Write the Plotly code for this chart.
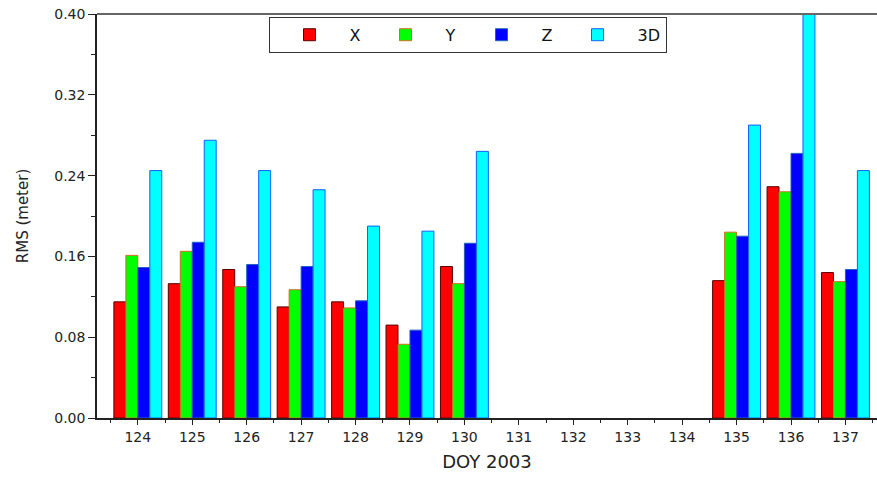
import plotly.graph_objects as go

days = [124, 125, 126, 127, 128, 129, 130, 131, 132, 133, 134, 135, 136, 137]
rms_x = [0.115, 0.133, 0.147, 0.110, 0.115, 0.092, 0.150, None, None, None, None, 0.136, 0.229, 0.144]
rms_y = [0.161, 0.165, 0.130, 0.127, 0.109, 0.073, 0.133, None, None, None, None, 0.184, 0.224, 0.135]
rms_z = [0.149, 0.174, 0.152, 0.150, 0.116, 0.087, 0.173, None, None, None, None, 0.180, 0.262, 0.147]
rms_3d = [0.245, 0.275, 0.245, 0.226, 0.190, 0.185, 0.264, None, None, None, None, 0.290, 0.410, 0.245]

series = [
    ("X", rms_x, "#ff0000", "#5a0000"),
    ("Y", rms_y, "#00ff00", "#d07020"),
    ("Z", rms_z, "#0000ff", "#2060c0"),
    ("3D", rms_3d, "#00ffff", "#1060ff"),
]

fig = go.Figure()
for name, vals, fill, line in series:
    fig.add_trace(go.Bar(
        x=days, y=vals, name=name,
        marker=dict(color=fill, line=dict(color=line, width=1)),
    ))

fig.update_layout(
    width=877, height=477,
    margin=dict(l=97, r=0, t=14, b=59, autoexpand=False),
    paper_bgcolor="white", plot_bgcolor="white",
    barmode="group", bargap=0.12, bargroupgap=0,
    font=dict(family="DejaVu Sans, sans-serif", color="#222222"),
    showlegend=True,
    legend=dict(
        orientation="h", x=0.475, xanchor="center", y=0.993, yanchor="top",
        bordercolor="#333333", borderwidth=1, bgcolor="white",
        font=dict(size=16, color="#111111"), itemwidth=70,
        traceorder="normal", itemclick=False,
    ),
    xaxis=dict(
        range=[123.25, 137.58], tickmode="array", tickvals=days,
        ticktext=[str(d) for d in days], automargin=False,
        showline=True, linecolor="#222222", linewidth=1.5,
        ticks="outside", ticklen=5, tickcolor="#222222",
        showgrid=False, zeroline=False,
        minor=dict(tickmode="array", tickvals=[d + 0.5 for d in [123] + days],
                   ticks="outside", ticklen=3, tickcolor="#222222"),
        tickfont=dict(size=14),
        title=dict(text="DOY 2003", font=dict(size=18), standoff=12),
    ),
    yaxis=dict(
        range=[0, 0.40], tickmode="linear", tick0=0, dtick=0.08,
        tickformat=".2f", automargin=False,
        showline=True, linecolor="#222222", linewidth=1.5,
        ticks="outside", ticklen=7, tickcolor="#222222",
        showgrid=False, zeroline=False,
        minor=dict(dtick=0.04, ticks="outside", ticklen=4, tickcolor="#222222"),
        tickfont=dict(size=14),
        title=dict(text="RMS (meter)", font=dict(size=15), standoff=22),
    ),
    shapes=[dict(type="line", xref="paper", yref="paper", x0=0, x1=1, y0=1, y1=1,
                 line=dict(color="#666666", width=2))],
)

fig.write_html(
    "out.html",
    config={"displayModeBar": False},
    post_script="document.body.style.margin='0';document.body.style.overflow='hidden';",
)
